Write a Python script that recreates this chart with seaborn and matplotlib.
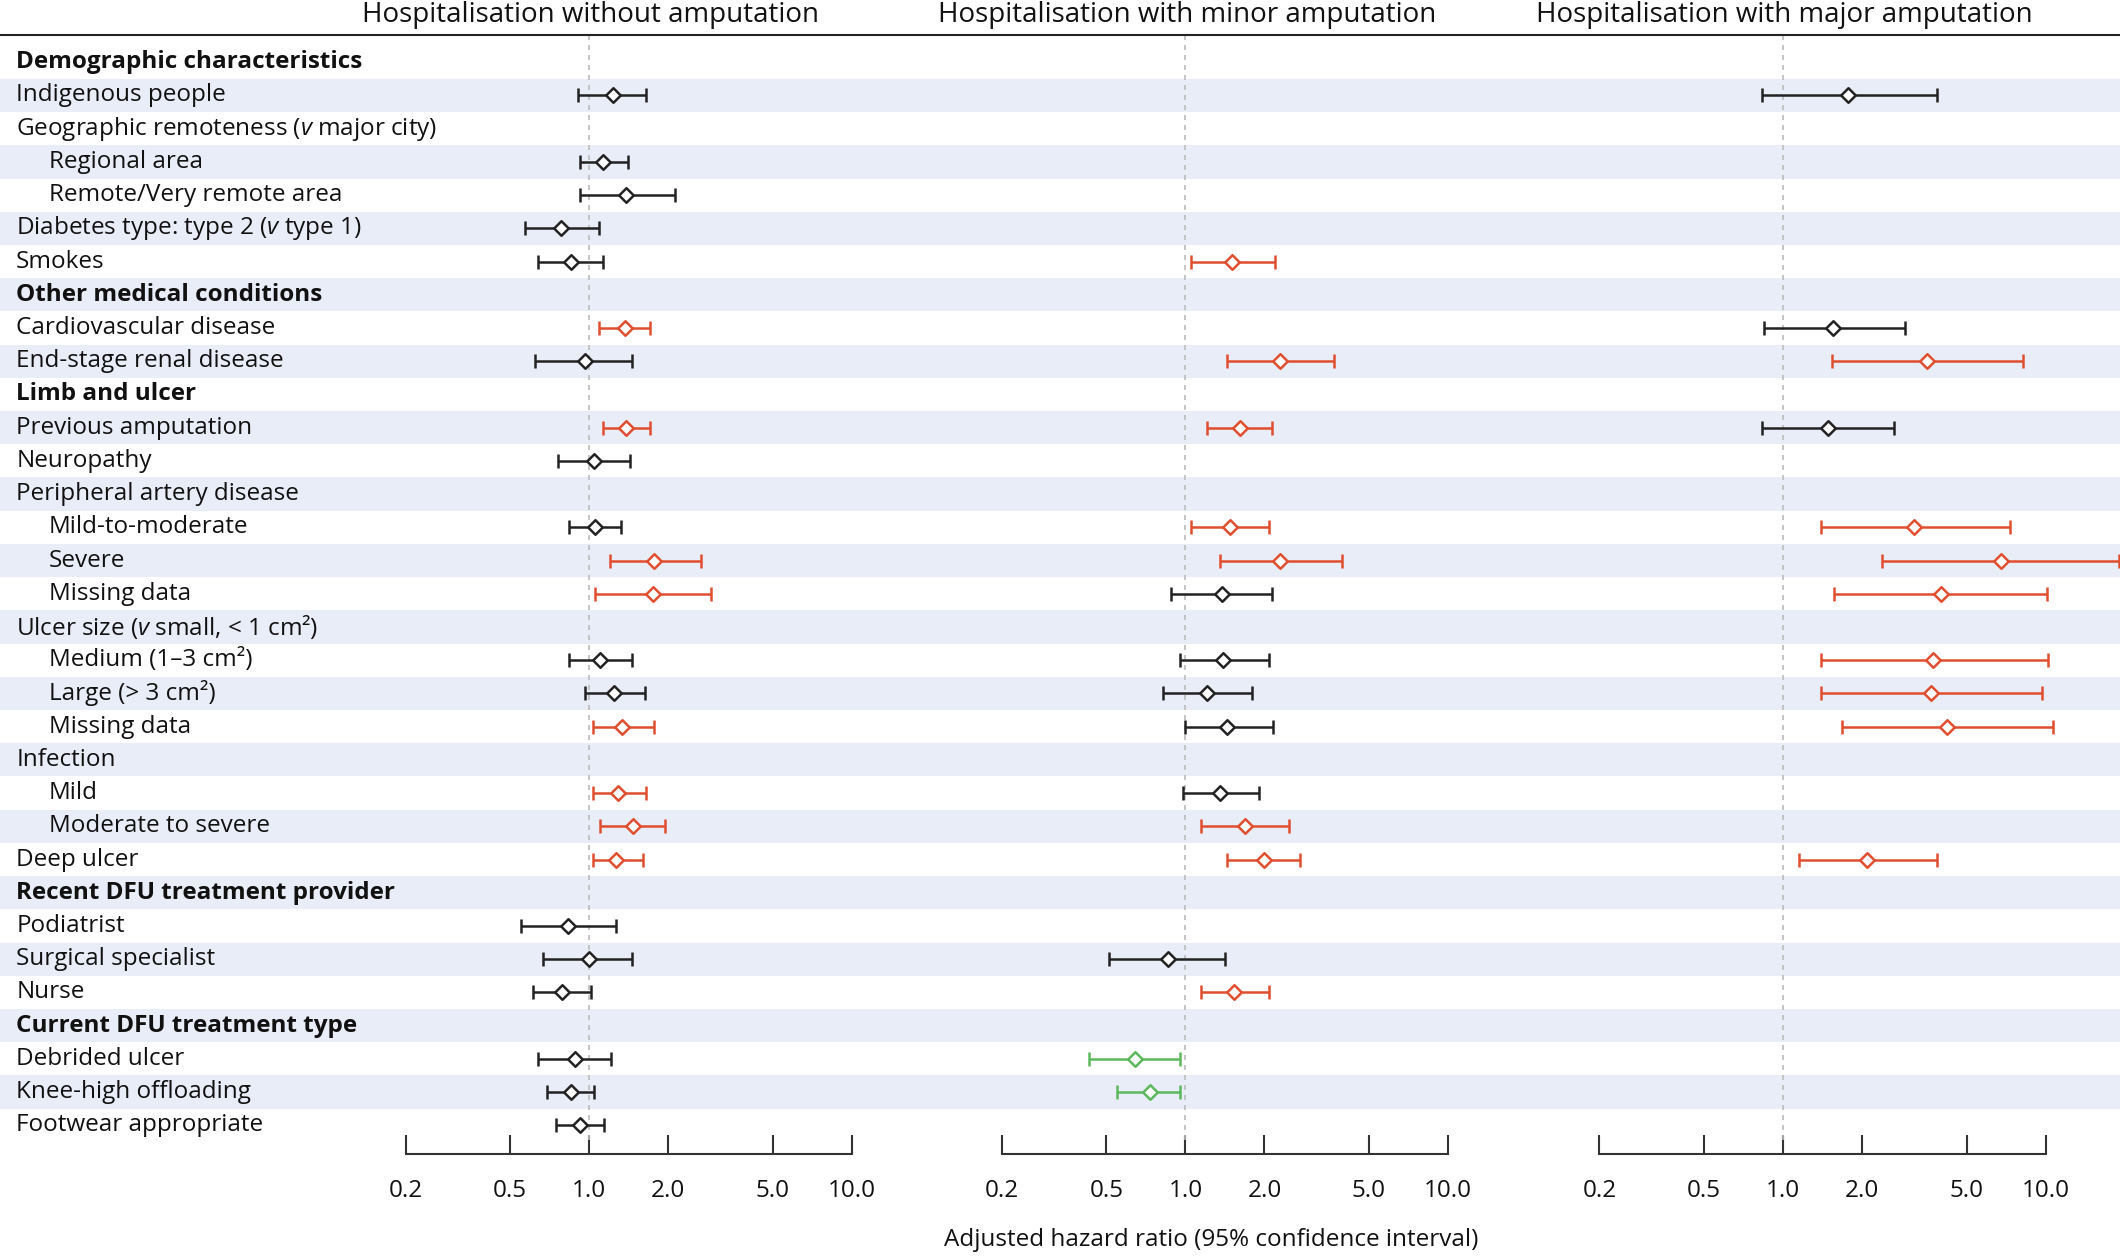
import matplotlib
matplotlib.use("Agg")
import matplotlib.pyplot as plt
import seaborn as sns
import pandas as pd
import numpy as np

labels = ["Demographic characteristics", "Indigenous people", "Geographic remoteness (|v| major city)",
          "Regional area", "Remote/Very remote area", "Diabetes type: type 2 (|v| type 1)", "Smokes",
          "Other medical conditions", "Cardiovascular disease", "End-stage renal disease",
          "Limb and ulcer", "Previous amputation", "Neuropathy", "Peripheral artery disease",
          "Mild-to-moderate", "Severe", "Missing data", "Ulcer size (|v| small, < 1 cm²)",
          "Medium (1–3 cm²)", "Large (> 3 cm²)", "Missing data", "Infection", "Mild",
          "Moderate to severe", "Deep ulcer", "Recent DFU treatment provider", "Podiatrist",
          "Surgical specialist", "Nurse", "Current DFU treatment type", "Debrided ulcer",
          "Knee-high offloading", "Footwear appropriate"]
bold_rows = [0, 7, 10, 25, 29]
indent_rows = [3, 4, 14, 15, 16, 18, 19, 20, 22, 23]

panel_titles = ["Hospitalisation without amputation", "Hospitalisation with minor amputation",
                "Hospitalisation with major amputation"]

# (row, hr, lo, hi, colour)  k=black, r=red, g=green
panel1 = [(1, 1.23, 0.91, 1.65, "k"), (3, 1.13, 0.92, 1.40, "k"), (4, 1.38, 0.92, 2.12, "k"),
          (5, 0.78, 0.57, 1.09, "k"), (6, 0.85, 0.64, 1.13, "k"), (8, 1.37, 1.09, 1.71, "r"),
          (9, 0.96, 0.62, 1.45, "k"), (11, 1.38, 1.13, 1.71, "r"), (12, 1.04, 0.76, 1.43, "k"),
          (14, 1.05, 0.84, 1.32, "k"), (15, 1.77, 1.20, 2.66, "r"), (16, 1.75, 1.05, 2.92, "r"),
          (18, 1.10, 0.84, 1.45, "k"), (19, 1.24, 0.96, 1.63, "k"), (20, 1.33, 1.03, 1.77, "r"),
          (22, 1.29, 1.03, 1.65, "r"), (23, 1.47, 1.10, 1.95, "r"), (24, 1.27, 1.03, 1.61, "r"),
          (26, 0.83, 0.55, 1.27, "k"), (27, 1.00, 0.67, 1.45, "k"), (28, 0.79, 0.61, 1.02, "k"),
          (30, 0.88, 0.64, 1.21, "k"), (31, 0.85, 0.69, 1.04, "k"), (32, 0.92, 0.75, 1.14, "k")]
panel2 = [(6, 1.50, 1.05, 2.19, "r"), (9, 2.30, 1.44, 3.69, "r"), (11, 1.61, 1.21, 2.14, "r"),
          (14, 1.48, 1.05, 2.09, "r"), (15, 2.30, 1.36, 3.96, "r"), (16, 1.38, 0.88, 2.14, "k"),
          (18, 1.39, 0.95, 2.09, "k"), (19, 1.21, 0.82, 1.79, "k"), (20, 1.44, 1.00, 2.16, "k"),
          (22, 1.36, 0.98, 1.90, "k"), (23, 1.69, 1.15, 2.49, "r"), (24, 1.99, 1.44, 2.74, "r"),
          (27, 0.86, 0.51, 1.41, "k"), (28, 1.53, 1.15, 2.09, "r"), (30, 0.64, 0.43, 0.95, "g"),
          (31, 0.73, 0.55, 0.95, "g")]
panel3 = [(1, 1.77, 0.83, 3.87, "k"), (8, 1.55, 0.85, 2.91, "k"), (9, 3.52, 1.53, 8.17, "r"),
          (11, 1.48, 0.83, 2.65, "k"), (14, 3.16, 1.39, 7.34, "r"), (15, 6.76, 2.38, 19.0, "r"),
          (16, 4.01, 1.57, 10.1, "r"), (18, 3.73, 1.39, 10.2, "r"), (19, 3.65, 1.39, 9.66, "r"),
          (20, 4.20, 1.67, 10.7, "r"), (24, 2.09, 1.15, 3.87, "r")]

ticks = [0.2, 0.5, 1.0, 2.0, 5.0, 10.0]
tick_labels = ["0.2", "0.5", "1.0", "2.0", "5.0", "10.0"]
colors = {"k": "#222222", "r": "#e04e2f", "g": "#5cb85c"}

sns.set_theme(style="white")
FONT = ["Open Sans", "DejaVu Sans"]
plt.rcParams["font.family"] = FONT
plt.rcParams["mathtext.fontset"] = "custom"
plt.rcParams["mathtext.it"] = "Open Sans:italic"

W, H = 1568.0, 930.0
fig = plt.figure(figsize=(21.2, 12.58), dpi=100)
bottom = 1 - 853 / H
top = 1 - 26 / H
y0 = (46 - 26) / 24.56
ylim = (32 + (853 - 46 - 24.56 * 32) / 24.56, -y0)

bg = fig.add_axes([0, bottom, 1, top - bottom])
bg.set_xlim(0, 1)
bg.set_ylim(*ylim)
bg.axis("off")
n = len(labels)
for i in range(n):
    if i % 2 == 1:
        bg.axhspan(i - 0.5, i + 0.5, color="#e9edf7", lw=0)
    txt = labels[i]
    x = 36 / W if i in indent_rows else 12 / W
    wt = "bold" if i in bold_rows else "normal"
    if "|v|" in txt:
        a, b = txt.split("|v|")
        txt = a + r"$\mathit{v}$" + b
    bg.text(x, i, txt, va="center", ha="left",
            fontsize=17.5, fontweight=wt, color="#111111", family=FONT)
fig.add_artist(plt.Line2D([0, 1], [top, top], color="#222222", lw=1.5))

lefts = [300, 741, 1183]
for k, (left, data, title) in enumerate(zip(lefts, [panel1, panel2, panel3], panel_titles)):
    ax = fig.add_axes([left / W, bottom, 330 / W, top - bottom])
    ax.patch.set_alpha(0)
    df = pd.DataFrame(data, columns=["row", "hr", "lo", "hi", "c"])
    ax.set_xscale("log")
    ax.axvline(1.0, color="#bbbbbb", ls=(0, (3, 3)), lw=1.2, ymin=0.012, ymax=1)
    for _, r in df.iterrows():
        c = colors[r.c]
        ax.errorbar(r.hr, r.row, xerr=[[r.hr - r.lo], [r.hi - r.hr]], fmt="none", ecolor=c,
                    elinewidth=1.8, capsize=5, capthick=1.8, clip_on=False)
    for ck, sub in df.groupby("c"):
        sns.scatterplot(data=sub, x="hr", y="row", marker="D", s=55, color="white",
                        edgecolor=colors[ck], linewidth=1.8, legend=False, ax=ax, zorder=5,
                        clip_on=False)
    ax.set_xlim(0.2, 10)
    ax.set_ylim(*ylim)
    ax.set_xticks(ticks)
    ax.set_xticklabels(tick_labels, fontsize=17.5)
    ax.minorticks_off()
    ax.set_yticks([])
    ax.set_xlabel("")
    ax.set_ylabel("")
    for s in ["top", "left", "right"]:
        ax.spines[s].set_visible(False)
    ax.spines["bottom"].set_color("#333333")
    ax.spines["bottom"].set_linewidth(1.5)
    ax.tick_params(axis="x", bottom=True, direction="in", length=14, width=1.5, color="#333333",
                   pad=18, labelcolor="#111111")
    fig.text((left + 137) / W, 1 - 11 / H, title, ha="center", va="center", fontsize=20,
             color="#111111", family=FONT)

fig.text(896 / W, 1 - 917 / H, "Adjusted hazard ratio (95% confidence interval)", ha="center",
         va="center", fontsize=17.5, color="#111111", family=FONT)
fig.savefig("out.png", dpi=100)
